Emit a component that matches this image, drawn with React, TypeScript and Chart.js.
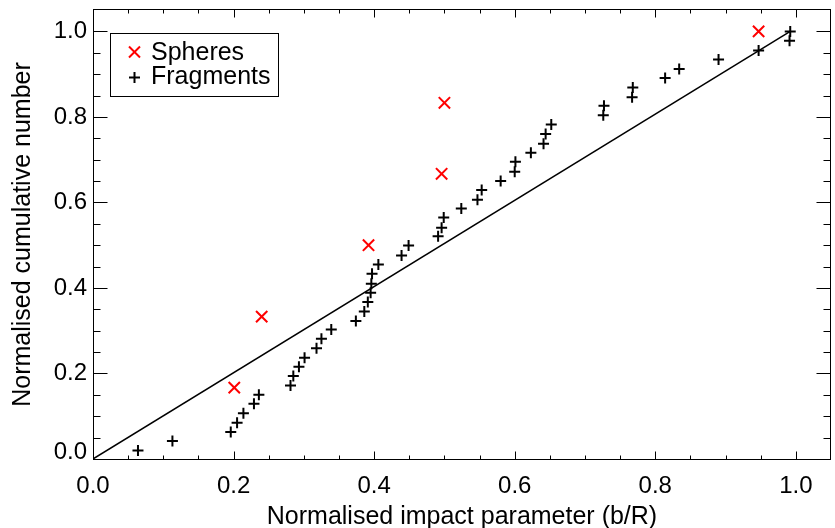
import React, { useEffect, useRef } from "react";
import { Chart, registerables } from "chart.js";

Chart.register(...registerables);

const sphereX = [0.201, 0.240, 0.392, 0.496, 0.500, 0.947];
const sphereY = [0.167, 0.333, 0.500, 0.667, 0.833, 1.000];

const fragX = [
  0.064, 0.113, 0.196, 0.205, 0.214, 0.229, 0.236, 0.281, 0.285, 0.293,
  0.301, 0.318, 0.325, 0.339, 0.374, 0.386, 0.391, 0.395, 0.396, 0.397,
  0.406, 0.439, 0.449, 0.491, 0.496, 0.499, 0.524, 0.547, 0.553, 0.580,
  0.600, 0.601, 0.623, 0.641, 0.644, 0.652, 0.726, 0.727, 0.767, 0.768,
  0.814, 0.834, 0.890, 0.947, 0.991, 0.992,
];
const fragY = [
  0.020, 0.042, 0.063, 0.085, 0.107, 0.129, 0.150, 0.172, 0.194, 0.216,
  0.237, 0.259, 0.281, 0.303, 0.323, 0.345, 0.367, 0.389, 0.410, 0.433,
  0.455, 0.476, 0.499, 0.521, 0.541, 0.565, 0.586, 0.606, 0.629, 0.650,
  0.672, 0.695, 0.716, 0.737, 0.760, 0.782, 0.804, 0.826, 0.846, 0.869,
  0.891, 0.912, 0.934, 0.955, 0.978, 1.000,
];

const fitX = [0, 0.992];
const fitY = [0, 1.0];

const xTickValues = [0, 0.2, 0.4, 0.6, 0.8, 1.0];
const yTickValues = [0, 0.2, 0.4, 0.6, 0.8, 1.0];
const legendLabels = ["Spheres", "Fragments"];
const xTitle = "Normalised impact parameter (b/R)";
const yTitle = "Normalised cumulative number";

const FONT = "'Liberation Sans', Arial, Helvetica, sans-serif";

const framePlugin = {
  id: "idlFrame",
  afterDraw(chart: any) {
    const { ctx, chartArea: a, scales } = chart;
    const xs = scales.x;
    const ys = scales.y;
    const L = Math.round(a.left) + 0.5;
    const R = Math.round(a.right) - 0.5;
    const T = Math.round(a.top) - 0.5;
    const B = Math.round(a.bottom) + 0.5;
    ctx.save();
    ctx.strokeStyle = "#000";
    ctx.lineWidth = 1;
    ctx.strokeRect(L, T, R - L, B - T);
    const line = (x1: number, y1: number, x2: number, y2: number) => {
      ctx.beginPath();
      ctx.moveTo(x1, y1);
      ctx.lineTo(x2, y2);
      ctx.stroke();
    };
    for (let k = 1; k <= 20; k++) {
      const v = k * 0.05;
      const major = k % 4 === 0;
      const px = Math.round(xs.getPixelForValue(v)) + 0.5;
      const xl = major ? 8 : 4;
      line(px, B, px, B - xl);
      line(px, T, px, T + xl);
      const py = Math.round(ys.getPixelForValue(v)) + 0.5;
      const yl = major ? 14 : 7;
      line(L, py, L + yl, py);
      line(R, py, R - yl, py);
    }
    // legend
    ctx.strokeRect(110.5, 33.5, 168, 63);
    ctx.lineWidth = 2;
    ctx.strokeStyle = "#ff0000";
    const cx = 134.5;
    const y1 = 52;
    const y2 = 77.5;
    const h = 5.5;
    line(cx - h, y1 - h, cx + h, y1 + h);
    line(cx - h, y1 + h, cx + h, y1 - h);
    ctx.strokeStyle = "#000";
    line(cx - h, y2, cx + h, y2);
    line(cx, y2 - h, cx, y2 + h);
    ctx.fillStyle = "#000";
    ctx.font = `25px ${FONT}`;
    ctx.textAlign = "left";
    ctx.textBaseline = "alphabetic";
    ctx.fillText(legendLabels[0], 151, 59.5);
    ctx.fillText(legendLabels[1], 151, 83.5);
    ctx.restore();
  },
};

export default function App() {
  const ref = useRef<HTMLCanvasElement | null>(null);
  useEffect(() => {
    if (!ref.current) return;
    const chart = new Chart(ref.current, {
      type: "scatter",
      data: {
        datasets: [
          {
            type: "line",
            label: "fit",
            data: fitX.map((x, i) => ({ x, y: fitY[i] })),
            borderColor: "#000",
            borderWidth: 1.5,
            pointRadius: 0,
            fill: false,
          } as any,
          {
            label: legendLabels[1],
            data: fragX.map((x, i) => ({ x, y: fragY[i] })),
            pointStyle: "cross",
            pointRadius: 5.5,
            borderColor: "#000",
            backgroundColor: "#000",
            borderWidth: 2,
          },
          {
            label: legendLabels[0],
            data: sphereX.map((x, i) => ({ x, y: sphereY[i] })),
            pointStyle: "crossRot",
            pointRadius: 8,
            borderColor: "#ff0000",
            backgroundColor: "#ff0000",
            borderWidth: 2,
          },
        ],
      },
      options: {
        responsive: false,
        animation: false,
        devicePixelRatio: 1,
        layout: { padding: { top: 8, right: 0, left: 0, bottom: 0 } },
        plugins: {
          legend: { display: false },
          tooltip: { enabled: false },
        },
        scales: {
          x: {
            type: "linear",
            min: 0,
            max: 1.05,
            afterBuildTicks: (s: any) => {
              s.ticks = xTickValues.map((v) => ({ value: v }));
            },
            afterFit: (s: any) => {
              s.height = 69;
              s.paddingLeft = 0;
              s.paddingRight = 0;
            },
            grid: { display: false, drawTicks: false },
            border: { display: false },
            ticks: {
              color: "#000",
              padding: 13,
              maxRotation: 0,
              font: { family: FONT, size: 24 },
              callback: (v: any) => Number(v).toFixed(1),
            },
            title: {
              display: true,
              text: xTitle,
              color: "#000",
              font: { family: FONT, size: 25, lineHeight: 1 },
              padding: { top: 0, bottom: -2 },
            },
          },
          y: {
            type: "linear",
            min: 0,
            max: 1.05,
            afterBuildTicks: (s: any) => {
              s.ticks = yTickValues.map((v) => ({ value: v }));
            },
            afterFit: (s: any) => {
              s.width = 93;
              s.paddingTop = 0;
              s.paddingBottom = 0;
            },
            grid: { display: false, drawTicks: false },
            border: { display: false },
            ticks: {
              color: "#000",
              padding: 6,
              font: (c: any) =>
                c.tick && c.tick.value === 0
                  ? { family: FONT, size: 24, lineHeight: 0.58 }
                  : { family: FONT, size: 24 },
              callback: (v: any) => (Number(v) === 0 ? [Number(v).toFixed(1), ""] : Number(v).toFixed(1)),
            },
            title: {
              display: true,
              text: yTitle,
              color: "#000",
              font: { family: FONT, size: 25, lineHeight: 1 },
              padding: { top: 11, bottom: 0 },
            },
          },
        },
      },
      plugins: [framePlugin],
    });
    return () => chart.destroy();
  }, []);
  return (
    <div style={{ position: "fixed", left: 0, top: 0, width: 841, height: 528, background: "#fff" }}>
      <canvas ref={ref} width={841} height={528} style={{ display: "block" }} />
    </div>
  );
}
